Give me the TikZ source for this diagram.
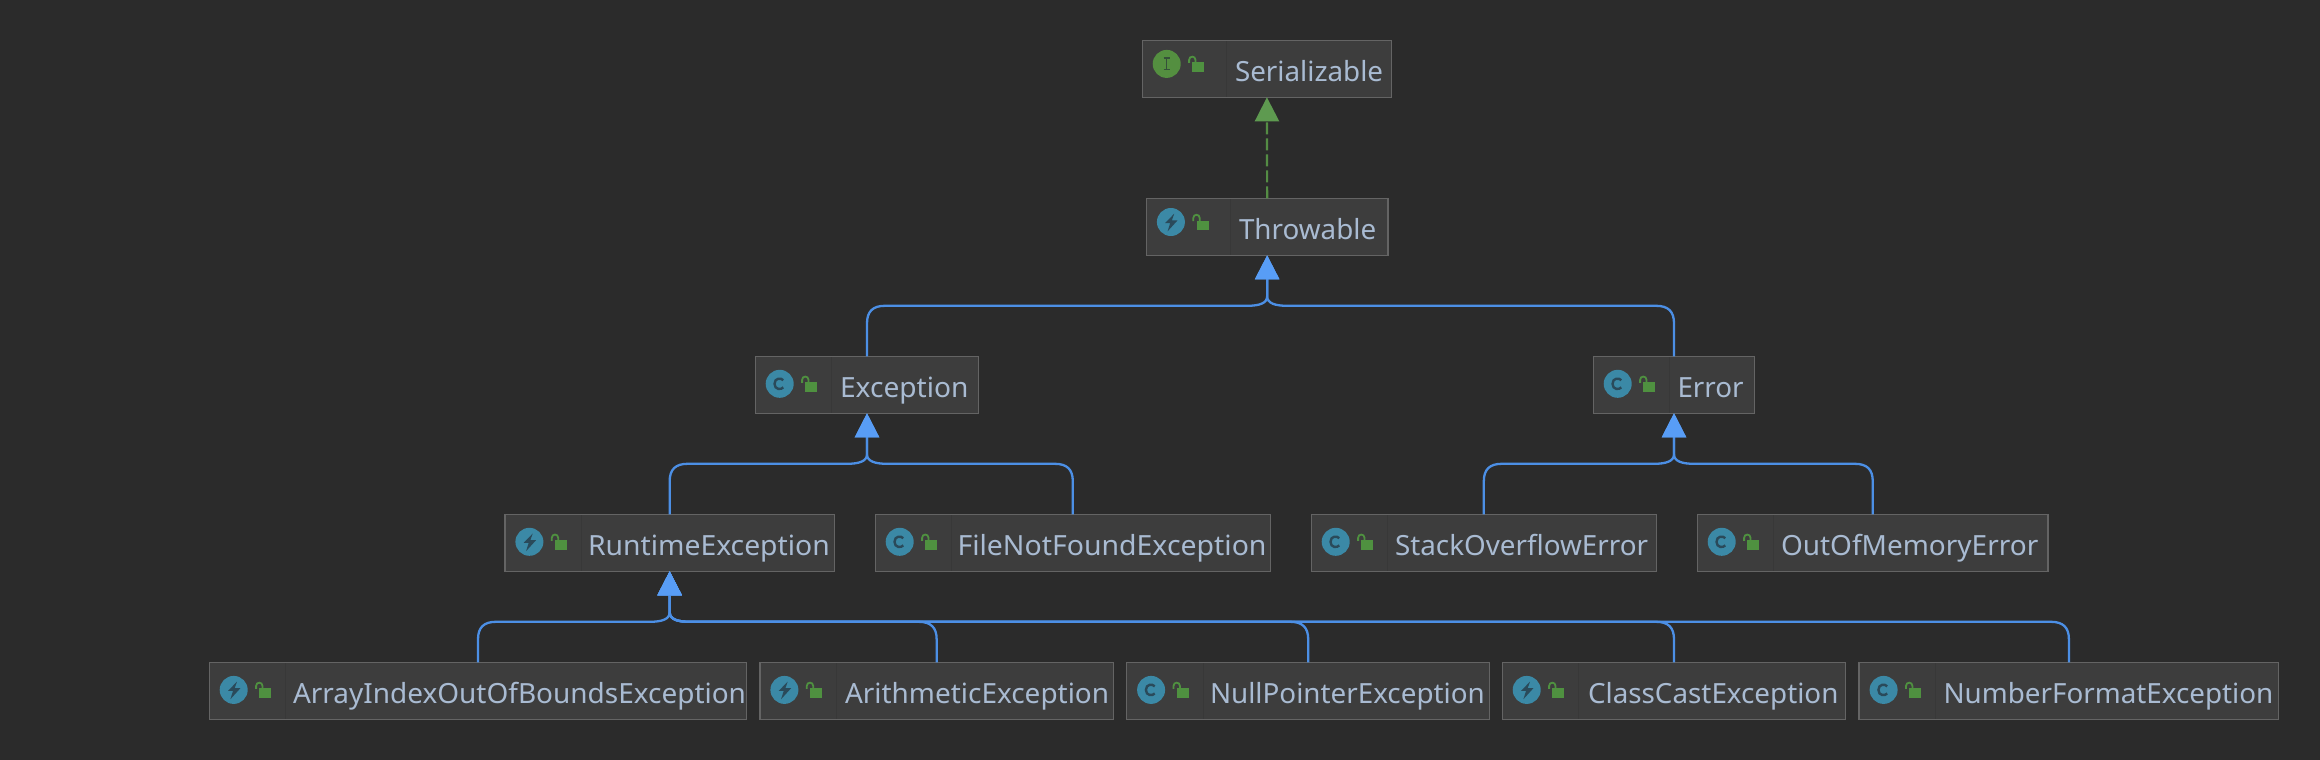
\documentclass[tikz,border=0pt]{standalone}
\usepackage{graphicx}
\usepackage{fontspec}
\setmainfont{Noto Sans}
\usetikzlibrary{arrows.meta,calc}
\definecolor{bgdark}{HTML}{2B2B2B}
\definecolor{boxfill}{HTML}{3D3D3D}
\definecolor{boxedge}{HTML}{646464}
\definecolor{boxdiv}{HTML}{383838}
\definecolor{labeltxt}{HTML}{A9BBD2}
\definecolor{teal}{HTML}{3B89A6}
\definecolor{tealdark}{HTML}{2A4A5A}
\definecolor{ifgreen}{HTML}{548F40}
\definecolor{ifdark}{HTML}{35503A}
\definecolor{lockgreen}{HTML}{4F9140}
\definecolor{extline}{HTML}{4C8FE5}
\definecolor{exthead}{HTML}{589DF6}
\definecolor{impline}{HTML}{548C44}
\definecolor{imphead}{HTML}{5E9A50}
\tikzset{
  jbox/.style={draw=boxedge,fill=boxfill,line width=1.5bp,inner sep=0pt,outer sep=0pt,
    minimum height=57bp,text=labeltxt,font=\fontsize{27.8bp}{30bp}\selectfont,anchor=north west},
  extends/.style={draw=extline,line width=2.3bp,
    -{Triangle[width=24bp,length=24bp,color=exthead]}},
  implements/.style={draw=impline,line width=2.2bp,dash pattern=on 12bp off 4bp,
    -{Triangle[width=24bp,length=24bp,color=imphead]}},
  divline/.style={draw=boxdiv,line width=1bp},
  lockbody/.style={fill=lockgreen},
  lockarc/.style={draw=lockgreen,line width=1.8bp},
  glyphline/.style={draw=tealdark,line width=2.4bp},
}
% #1 name, #2 left, #3 right, #4 top, #5 text left, #6 icon kind, #7 icon y offset, #8 divider offset, #9 text
\newcommand\jbox[9]{%
  \pgfmathsetmacro\jW{#3-#2}%
  \pgfmathsetmacro\jO{#5-#2}%
  \node[jbox,minimum width=\jW bp] (#1) at (#2,#4)
    {\makebox[\jW bp][l]{\hspace*{\jO bp}\rule[-16bp]{0pt}{57bp}#9}};
  \draw[divline] ($(#1.north west)+(#8,0.8)$) -- ($(#1.south west)+(#8,-0.8)$);
  \begin{scope}[shift={(#2+24.4,#4+#7)}]
    \csname jicon#6\endcsname
    \fill[lockbody] (25.6,-1.5) rectangle (37.6,8);
    \draw[lockarc] (22.4,-1) -- (22.4,-4) .. controls (22.4,-8.3) and (28.8,-8.3) .. (28.8,-4) -- (28.8,-1);
  \end{scope}
}
\newcommand\jiconc{\fill[teal] (0,0) circle[radius=14];
  \draw[glyphline] (3.6,-3.6) .. controls (1.5,-6.2) and (-5.2,-6) .. (-5.2,0) .. controls (-5.2,6) and (1.5,6.2) .. (3.6,3.6);}
\newcommand\jiconr{\fill[teal] (0,0) circle[radius=14];
  \fill[tealdark] (3.3,-8.3) -- (-5.7,1) -- (-0.7,1) -- (-3.3,9.3) -- (6.7,-1.7) -- (1,-1.7) -- cycle;}
\newcommand\jiconi{\fill[ifgreen] (0,0) circle[radius=14];
  \draw[draw=ifdark,line width=1.5bp] (-3.2,-5.8) -- (3.2,-5.8) (-3.2,5.8) -- (3.2,5.8) (0,-5.8) -- (0,5.8);}
\newcommand\jfit[2]{\scalebox{#1}[1]{#2}}
% #1 child, #2 parent, #3 side (1 = child to the left, -1 = child to the right)
\newcommand\jextends[3]{%
  \draw[extends] (#1.north) -- ($(#1.north |- #2.south)+(0,68)$)
    .. controls ($(#1.north |- #2.south)+(0,56)$) and ($(#1.north |- #2.south)+(#3*6,50.5)$)
    .. ($(#1.north |- #2.south)+(#3*18,50.5)$)
    -- ($(#2.south)+(#3*-20,50.5)$)
    .. controls ($(#2.south)+(#3*-8,50.5)$) and ($(#2.south)+(0,48)$) .. ($(#2.south)+(0,41)$)
    -- (#2.south);}
\begin{document}
\begin{tikzpicture}[x=1bp,y=-1bp]
\fill[bgdark] (0,0) rectangle (2320,760);
\useasboundingbox (0,0) rectangle (2320,760);
\jbox{serial}{1142.3}{1391.5}{40.3}{1235}{i}{23.6}{84.4}{Serializable}
\jbox{throw}{1146.5}{1387.8}{198.3}{1239}{r}{23.7}{84.4}{Throwable}
\jbox{exc}{755.3}{978.7}{356.3}{840}{c}{27.5}{76.5}{\jfit{1.012}{Exception}}
\jbox{err}{1593.3}{1754.7}{356.3}{1677.5}{c}{27.5}{76.5}{Error}
\jbox{rte}{505}{834.3}{514.3}{588}{r}{27.5}{76.5}{\jfit{1.018}{RuntimeException}}
\jbox{fnf}{875.3}{1270.3}{514.3}{957.5}{c}{27.5}{76.5}{\jfit{1.023}{FileNotFoundException}}
\jbox{soe}{1311.3}{1656.3}{514.3}{1395}{c}{27.5}{76.5}{StackOverflowError}
\jbox{oom}{1697.3}{2048.2}{514.3}{1781}{c}{27.5}{76.5}{\jfit{1.006}{OutOfMemoryError}}
\jbox{aio}{209.3}{746.7}{662.4}{293}{r}{27.5}{76.5}{\jfit{1.006}{ArrayIndexOutOfBoundsException}}
\jbox{ari}{760}{1113.3}{662.4}{845}{r}{27.5}{76.5}{\jfit{1.005}{ArithmeticException}}
\jbox{npe}{1126.7}{1489.7}{662.4}{1210}{c}{27.5}{76.5}{NullPointerException}
\jbox{cce}{1502.3}{1845.7}{662.4}{1588}{r}{27.5}{76.5}{ClassCastException}
\jbox{nfe}{1859.2}{2278.6}{662.4}{1943.5}{c}{27.5}{76.5}{NumberFormatException}
\draw[implements] (throw.north) -- (serial.south);
\jextends{exc}{throw}{1}
\jextends{err}{throw}{-1}
\jextends{rte}{exc}{1}
\jextends{fnf}{exc}{-1}
\jextends{soe}{err}{1}
\jextends{oom}{err}{-1}
\jextends{aio}{rte}{1}
\jextends{ari}{rte}{-1}
\jextends{npe}{rte}{-1}
\jextends{cce}{rte}{-1}
\jextends{nfe}{rte}{-1}
\end{tikzpicture}
\end{document}
